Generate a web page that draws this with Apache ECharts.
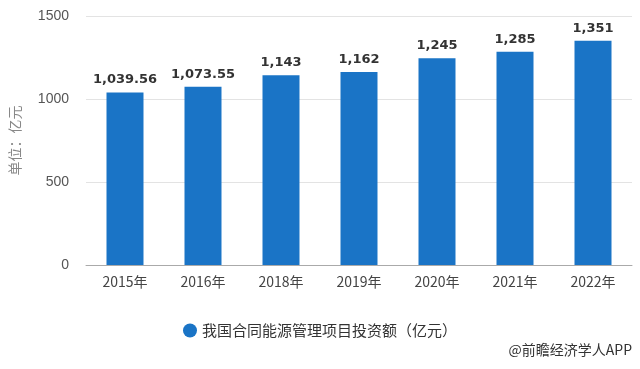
<!DOCTYPE html>
<html>
<head>
<meta charset="utf-8">
<script src="https://cdn.jsdelivr.net/npm/echarts@6/dist/echarts.min.js"></script>
<style>
html,body{margin:0;padding:0;background:#fff;}
#c{width:640px;height:369px;}
</style>
</head>
<body>
<div id="c"></div>
<script>
const categories = ['2015年','2016年','2018年','2019年','2020年','2021年','2022年'];
const values = [1039.56, 1073.55, 1143, 1162, 1245, 1285, 1351];
const seriesName = '我国合同能源管理项目投资额（亿元）';
const yTicks = [0, 500, 1000, 1500];
const sourceText = '@前瞻经济学人APP';

const chart = echarts.init(document.getElementById('c'));
chart.setOption({
  backgroundColor: '#fff',
  animation: false,
  grid: {left: 84, right: 8, top: 16, bottom: 104},
  legend: {
    data: [seriesName],
    left: 'center',
    top: 318,
    icon: 'circle',
    itemWidth: 14,
    itemHeight: 14,
    itemGap: 8,
    textStyle: {fontSize: 15, color: '#333', fontFamily: 'Noto Sans CJK SC'}
  },
  graphic: [{
    type: 'text',
    right: 8,
    top: 343,
    style: {text: sourceText, fontSize: 14, fill: '#333', fontFamily: 'Noto Sans CJK SC'}
  }],
  xAxis: {
    type: 'category',
    data: categories,
    axisLine: {lineStyle: {color: '#aaa'}},
    axisTick: {alignWithLabel: true, length: 4, lineStyle: {color: '#aaa'}},
    axisLabel: {fontSize: 14, color: '#444', margin: 10, fontFamily: 'Noto Sans CJK SC'}
  },
  yAxis: {
    type: 'value',
    min: yTicks[0],
    max: yTicks[yTicks.length - 1],
    interval: 500,
    name: '单位：亿元',
    nameLocation: 'middle',
    nameGap: 64,
    nameRotate: 90,
    nameTextStyle: {fontSize: 14, color: '#888', fontFamily: 'Noto Sans CJK SC'},
    axisLine: {show: false},
    axisTick: {show: false},
    axisLabel: {fontSize: 14, color: '#555', margin: 17, fontFamily: 'Liberation Sans', formatter: v => String(v)},
    splitLine: {lineStyle: {color: '#e3e3e3'}}
  },
  series: [{
    name: seriesName,
    type: 'bar',
    data: values,
    barWidth: 37,
    itemStyle: {color: '#1a74c6'},
    label: {
      show: true,
      position: 'top',
      distance: 6,
      fontSize: 13,
      fontWeight: 'bold',
      color: '#333',
      fontFamily: 'DejaVu Sans',
      formatter: p => p.value.toLocaleString('en-US', {maximumFractionDigits: 2})
    }
  }]
});
</script>
</body>
</html>
